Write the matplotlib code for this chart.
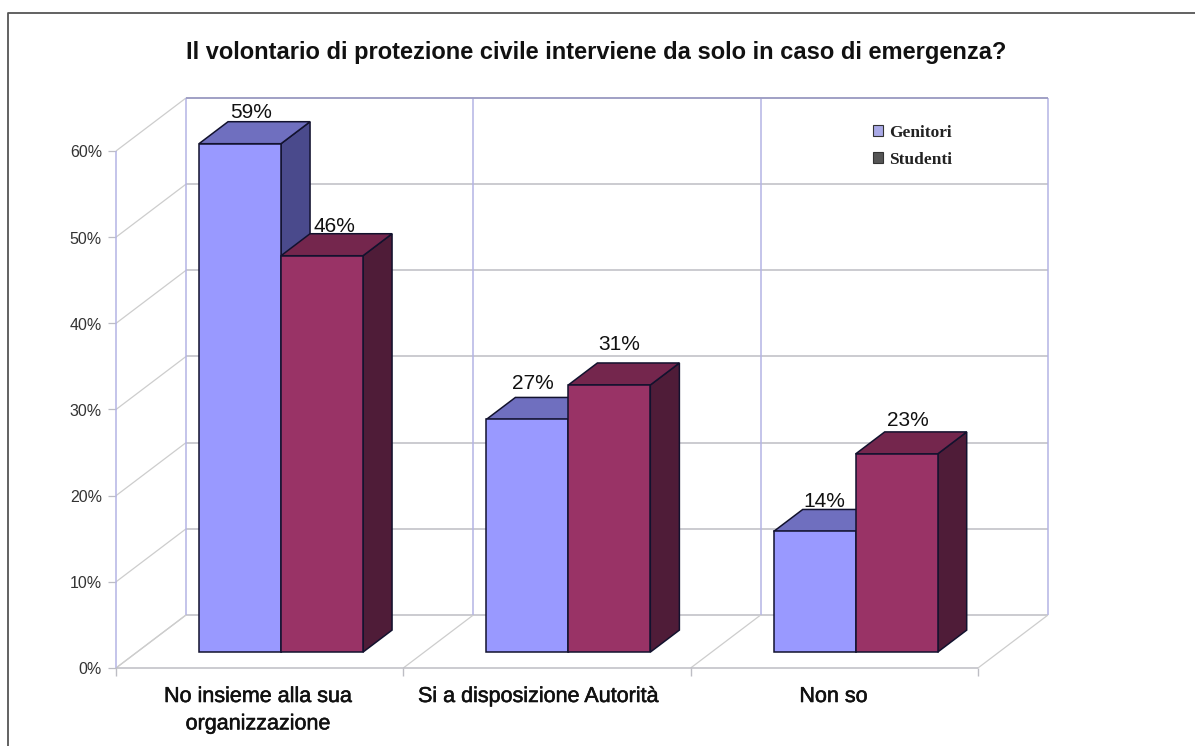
import matplotlib
matplotlib.use("Agg")
import matplotlib.pyplot as plt
from matplotlib.patches import Polygon, Patch
import matplotlib.patheffects as pe

title = "Il volontario di protezione civile interviene da solo in caso di emergenza?"
categories = ["No insieme alla sua\norganizzazione", "Si a disposizione Autorità", "Non so"]
series_names = ["Genitori", "Studenti"]
genitori = [59, 27, 14]
studenti = [46, 31, 23]
y_ticks = [0, 10, 20, 30, 40, 50, 60]

W, H = 1195, 746
PX_CAT = 287.33
PX_VAL = 8.617
X0, Y0 = 116, 668
WALL_DX, WALL_DY = 70 / PX_CAT, 53 / PX_VAL
BAR_W = 82 / PX_CAT
D_FRONT, D_BACK = 0.30, 0.715
GROUP_PAD = 83 / PX_CAT - D_FRONT * WALL_DX

FRONT = ["#9999FF", "#993366"]
TOP = ["#6F6FBF", "#74264D"]
SIDE = ["#4A4A8C", "#4F1C38"]
EDGE = "#12122E"
GRID = "#BDBDC4"
WALL = "#B4B4E4"
DIAG = "#CDCDCD"

fig = plt.figure(figsize=(W / 100, H / 100), dpi=100, facecolor="white")
ax = fig.add_axes([0, 0, 1, 1])
ax.set_xlim(-X0 / PX_CAT, (W - X0) / PX_CAT)
ax.set_ylim((Y0 - H) / PX_VAL, Y0 / PX_VAL)
ax.axis("off")
plt.rcParams["font.family"] = ["Liberation Sans", "DejaVu Sans"]


def P(x, v, d=0.0):
    return (x + d * WALL_DX, v + d * WALL_DY)


def line(a, b, color, lw=1.0, z=1, **kw):
    ax.plot([a[0], b[0]], [a[1], b[1]], color=color, lw=lw, zorder=z,
            solid_capstyle="butt", **kw)


n = len(categories)
vmax = max(y_ticks)
# walls and floor
for v in y_ticks:
    line(P(0, v, 1), P(n, v, 1), GRID, 1.1)
    line(P(0, v), P(0, v, 1), DIAG, 0.9)
    line((P(0, v)[0] - 8 / PX_CAT, v), P(0, v), GRID, 0.9)
    ax.text(P(0, v)[0] - 14 / PX_CAT, v - 2 / PX_VAL, f"{v}%", ha="right", va="center",
            fontsize=11.5, color="#333333")
for i in range(n + 1):
    line(P(i, 0, 1), P(i, vmax, 1), WALL, 1.1)
    line(P(i, 0), P(i, 0, 1), DIAG, 0.9)
    line(P(i, 0), (i, -8 / PX_VAL), GRID, 1.0)
line(P(0, vmax, 1), P(n, vmax, 1), "#9A9AC4", 1.2)
line(P(0, 0), P(0, vmax), WALL, 1.1)
line(P(0, 0), P(n, 0), GRID, 1.1)


def bar3d(x, v, k):
    x2 = x + BAR_W
    faces = [
        ([P(x2, 0, D_FRONT), P(x2, 0, D_BACK), P(x2, v, D_BACK), P(x2, v, D_FRONT)], SIDE[k]),
        ([P(x, v, D_FRONT), P(x2, v, D_FRONT), P(x2, v, D_BACK), P(x, v, D_BACK)], TOP[k]),
        ([P(x, 0, D_FRONT), P(x2, 0, D_FRONT), P(x2, v, D_FRONT), P(x, v, D_FRONT)], FRONT[k]),
    ]
    for pts, c in faces:
        ax.add_patch(Polygon(pts, closed=True, facecolor=c, edgecolor=EDGE,
                             lw=1.1, joinstyle="miter", zorder=3 + k))


label_dx = [[11, 12], [6, 10], [10, 11]]
label_dy = [[9, 7], [14, 18], [8, 11]]
for i, vals in enumerate(zip(genitori, studenti)):
    for k, v in enumerate(vals):
        x = i + GROUP_PAD + k * BAR_W
        bar3d(x, v, k)
        sx, by = P(x + BAR_W / 2, v, D_BACK)
        cx = x + BAR_W / 2 + D_FRONT * WALL_DX + label_dx[i][k] / PX_CAT
        ax.text(cx, by + label_dy[i][k] / PX_VAL,
                f"{v}%", ha="center", va="center", fontsize=15, color="#111111", zorder=8)

cat_dx = [-2, -9, -1]
for i, c in enumerate(categories):
    ax.text(i + 0.5 + cat_dx[i] / PX_CAT, -18 / PX_VAL, c, ha="center", va="top", fontsize=15.5,
            linespacing=1.4, color="#111111",
            path_effects=[pe.withStroke(linewidth=0.4, foreground="#111111")])

ax.text((596.5 - X0) / PX_CAT, (Y0 - 52) / PX_VAL, title, ha="center", va="center",
        fontsize=17, fontweight="bold", color="#111111")

# outer frame (top and left only)
ax.plot([W / PX_CAT, -(X0 - 7.5) / PX_CAT, -(X0 - 7.5) / PX_CAT],
        [(Y0 - 12.5) / PX_VAL, (Y0 - 12.5) / PX_VAL, (Y0 - H) / PX_VAL],
        color="#555555", lw=1.3, zorder=9, clip_on=False)

handles = [Patch(facecolor="#A9A9E6", edgecolor="#333333", lw=0.8),
           Patch(facecolor="#555555", edgecolor="#333333", lw=0.8)]
leg = ax.legend(handles, series_names, loc="upper left",
                bbox_to_anchor=(873 / W, 1 - 125 / H), bbox_transform=fig.transFigure,
                frameon=False, handlelength=0.6, handleheight=0.6, handletextpad=0.3,
                labelspacing=0.62, borderpad=0.0, borderaxespad=0,
                prop={"family": "Liberation Serif", "weight": "bold", "size": 12.5})
for t in leg.get_texts():
    t.set_color("#222222")

fig.savefig("out.png", dpi=100)
